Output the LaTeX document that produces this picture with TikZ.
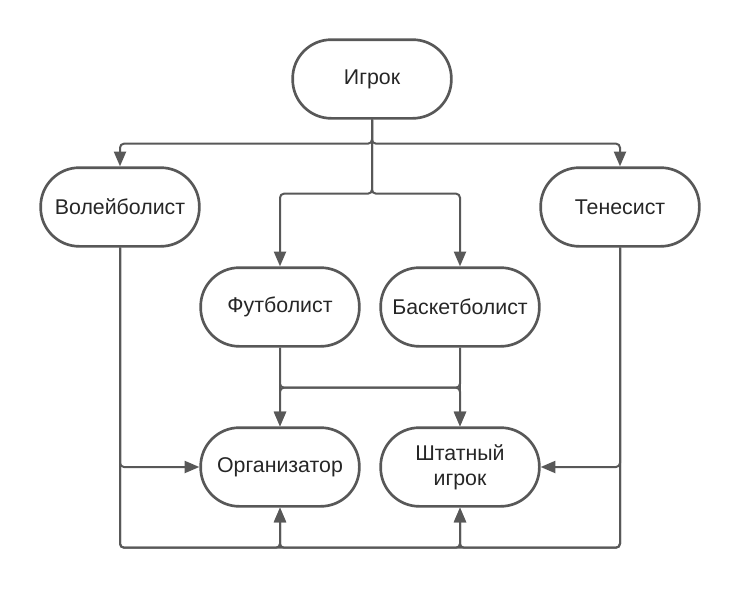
\documentclass[tikz,border=0pt]{standalone}
\usepackage{fontspec}
\setmainfont{Liberation Sans}
\usetikzlibrary{arrows.meta}
\definecolor{linegray}{RGB}{88,88,88}
\begin{document}
\begin{tikzpicture}[x=0.75pt,y=-0.75pt]
							\tikzstyle{block}=[draw=linegray,line width=2pt,rounded corners=29pt,minimum width=119pt,minimum height=59pt,inner sep=2pt,align=center,font=\fontsize{16}{19}\selectfont,text=black!85]
							\tikzstyle{link}=[draw=linegray,line width=1.5pt,rounded corners=3pt,-{Triangle[length=11pt,width=9pt]}]
							\useasboundingbox (0,0) rectangle (740,589);
							\node[block] (igrok) at (372,79) {Игрок};
							\node[block] (volley) at (120,207) {Волейболист};
							\node[block] (tennis) at (620,207) {Тенесист};
							\node[block] (foot) at (280,307) {Футболист};
							\node[block] (basket) at (460,307) {Баскетболист};
							\node[block] (org) at (280,467) {Организатор};
							\node[block] (shtat) at (460,467) {Штатный\\игрок};
							\draw[link] (igrok.south) -- ++(0,24) -| (volley.north);
							\draw[link] (igrok.south) -- ++(0,24) -| (tennis.north);
							\draw[link] (igrok.south) -- ++(0,74) -| (foot.north);
							\draw[link] (igrok.south) -- ++(0,74) -| (basket.north);
							\draw[link] (foot.south) -- ++(0,40) -| (org.north);
							\draw[link] (foot.south) -- ++(0,40) -| (shtat.north);
							\draw[link] (basket.south) -- ++(0,40) -| (org.north);
							\draw[link] (basket.south) -- ++(0,40) -| (shtat.north);
							\draw[link] (volley.south) |- (org.west);
							\draw[link] (tennis.south) |- (shtat.east);
							\draw[link] (volley.south) -- ++(0,300) -| (org.south);
							\draw[link] (volley.south) -- ++(0,300) -| (shtat.south);
							\draw[link] (tennis.south) -- ++(0,300) -| (org.south);
							\draw[link] (tennis.south) -- ++(0,300) -| (shtat.south);
							\end{tikzpicture}
\end{document}
